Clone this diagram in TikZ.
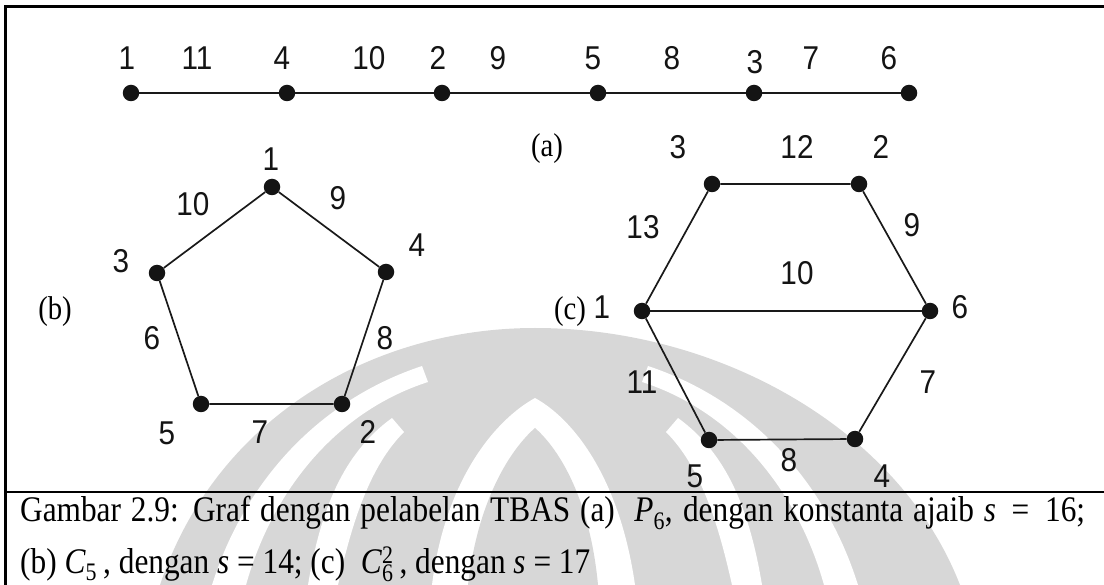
\documentclass[tikz,border=0pt]{standalone}
\usepackage{fontspec}
\setmainfont{Liberation Serif}[FakeStretch=0.87]
\newfontfamily\labelfont{Liberation Sans}[FakeStretch=0.9]
\begin{document}
\begin{tikzpicture}[x=1pt,y=-1pt,
  vtx/.style={circle,fill=black!92,draw=none,inner sep=0pt,minimum size=16.5pt},
  edge/.style={line width=1.7pt,black!90},
  num/.style={font=\labelfont\fontsize{33}{33}\selectfont,inner sep=0pt,text=black!92},
  tag/.style={font=\fontsize{33}{33}\selectfont,inner sep=0pt},
  frameline/.style={black,line cap=rect}]
\useasboundingbox (0,0) rectangle (1104,585);
\definecolor{wmgray}{RGB}{215,215,215}

% faint seal in the background
\begin{scope}
  \fill[wmgray] (160,585) .. controls (215,420) and (370,328) .. (535,328)
        .. controls (720,328) and (900,430) .. (960,585) -- cycle;
  \foreach \side/\sh in {1/0,-1/1070}{
    \begin{scope}[shift={(\sh,0)},xscale=\side]
      \fill[white] (212,585) .. controls (245,480) and (320,400) .. (422,366)
            -- (428,382) .. controls (335,412) and (272,492) .. (246,585) -- cycle;
      \fill[white] (308,585) .. controls (322,500) and (348,450) .. (392,418)
            -- (404,432) .. controls (370,466) and (352,522) .. (338,585) -- cycle;
    \end{scope}}
  \fill[white] (432,585) .. controls (445,480) and (495,420) .. (535,398)
        .. controls (575,420) and (620,480) .. (635,585) -- cycle;
  \fill[wmgray] (468,585) .. controls (478,500) and (510,450) .. (535,428)
        .. controls (560,450) and (590,500) .. (598,585) -- cycle;
\end{scope}

% frame
\draw[frameline,line width=2.6pt] (5.5,585) -- (5.5,6.5) -- (1104,6.5);
\draw[line width=1.4pt] (5.5,492) -- (1104,492);

% (a) path P6
\node[vtx] (a1) at (131,93) {};
\node[vtx] (a4) at (287,93) {};
\node[vtx] (a2) at (442,93) {};
\node[vtx] (a5) at (598,93) {};
\node[vtx] (a3) at (754,93) {};
\node[vtx] (a6) at (909,93) {};
\draw[edge] (a1) -- (a4) -- (a2) -- (a5) -- (a3) -- (a6);
\node[num] (la1) at (127,58) {1};
\node[num] (le11) at (197,58) {11};
\node[num] (la4) at (282,58) {4};
\node[num] (le10) at (369,58) {10};
\node[num] (la2) at (438,58) {2};
\node[num] (le9) at (498,58) {9};
\node[num] (la5) at (593,58) {5};
\node[num] (le8) at (672,58) {8};
\node[num] (la3) at (755,62) {3};
\node[num] (le7) at (811,58) {7};
\node[num] (la6) at (889,58) {6};
\node[tag] (taga) at (547,149) {(a)};

% (b) cycle C5
\node[vtx] (b1) at (272,187) {};
\node[vtx] (b4) at (386,272) {};
\node[vtx] (b3) at (157,273) {};
\node[vtx] (b5) at (201,404) {};
\node[vtx] (b2) at (342,404) {};
\draw[edge] (b1) -- (b4) -- (b2) -- (b5) -- (b3) -- (b1);
\node[num] (lb1) at (271,159) {1};
\node[num] (lb10) at (193,204) {10};
\node[num] (lb9) at (338,198) {9};
\node[num] (lb4) at (417,245) {4};
\node[num] (lb3) at (121,261) {3};
\node[num] (lb6) at (152,338) {6};
\node[num] (lb8) at (385,338) {8};
\node[num] (lb5) at (167,433) {5};
\node[num] (lb7) at (260,432) {7};
\node[num] (lb2) at (368,432) {2};
\node[tag] (tagb) at (55,312) {(b)};

% (c) square of C6
\node[vtx] (c3) at (712,184) {};
\node[vtx] (c2) at (859,184) {};
\node[vtx] (c1) at (642,311) {};
\node[vtx] (c6) at (930,311) {};
\node[vtx] (c5) at (709,440) {};
\node[vtx] (c4) at (855,439) {};
\draw[edge] (c3) -- (c2) -- (c6) -- (c4) -- (c5) -- (c1) -- (c3);
\draw[edge] (c1) -- (c6);
\node[num] (lc3) at (678,147) {3};
\node[num] (lc12) at (797,147) {12};
\node[num] (lc2) at (881,147) {2};
\node[num] (lc13) at (643,227) {13};
\node[num] (lc9) at (912,225) {9};
\node[num] (lc10) at (797,273) {10};
\node[num] (lc1) at (602,307) {1};
\node[num] (lc6) at (960,307) {6};
\node[num] (lc11) at (642,382) {11};
\node[num] (lc7) at (928,382) {7};
\node[num] (lc8) at (789,460) {8};
\node[num] (lc5) at (695,476) {5};
\node[num] (lc4) at (882,476) {4};
\node[tag] (tagc) at (570,312) {(c)};

% caption
\node[anchor=base west,inner sep=0pt,font=\fontsize{36}{44}\selectfont] (cap1) at (20,521)
  {\makebox[1065pt][s]{Gambar 2.9: Graf dengan pelabelan TBAS (a) \ \textit{P}\textsubscript{6}, dengan konstanta ajaib \textit{s} \,=\, 16;}};
\node[anchor=base west,inner sep=0pt,font=\fontsize{36}{44}\selectfont] (cap2) at (20,573)
  {(b) \textit{C}\textsubscript{5}\,, dengan \textit{s} = 14; (c) \ \textit{C}\rlap{\textsuperscript{2}}\textsubscript{6}\,, dengan \textit{s} = 17};
\end{tikzpicture}
\end{document}
